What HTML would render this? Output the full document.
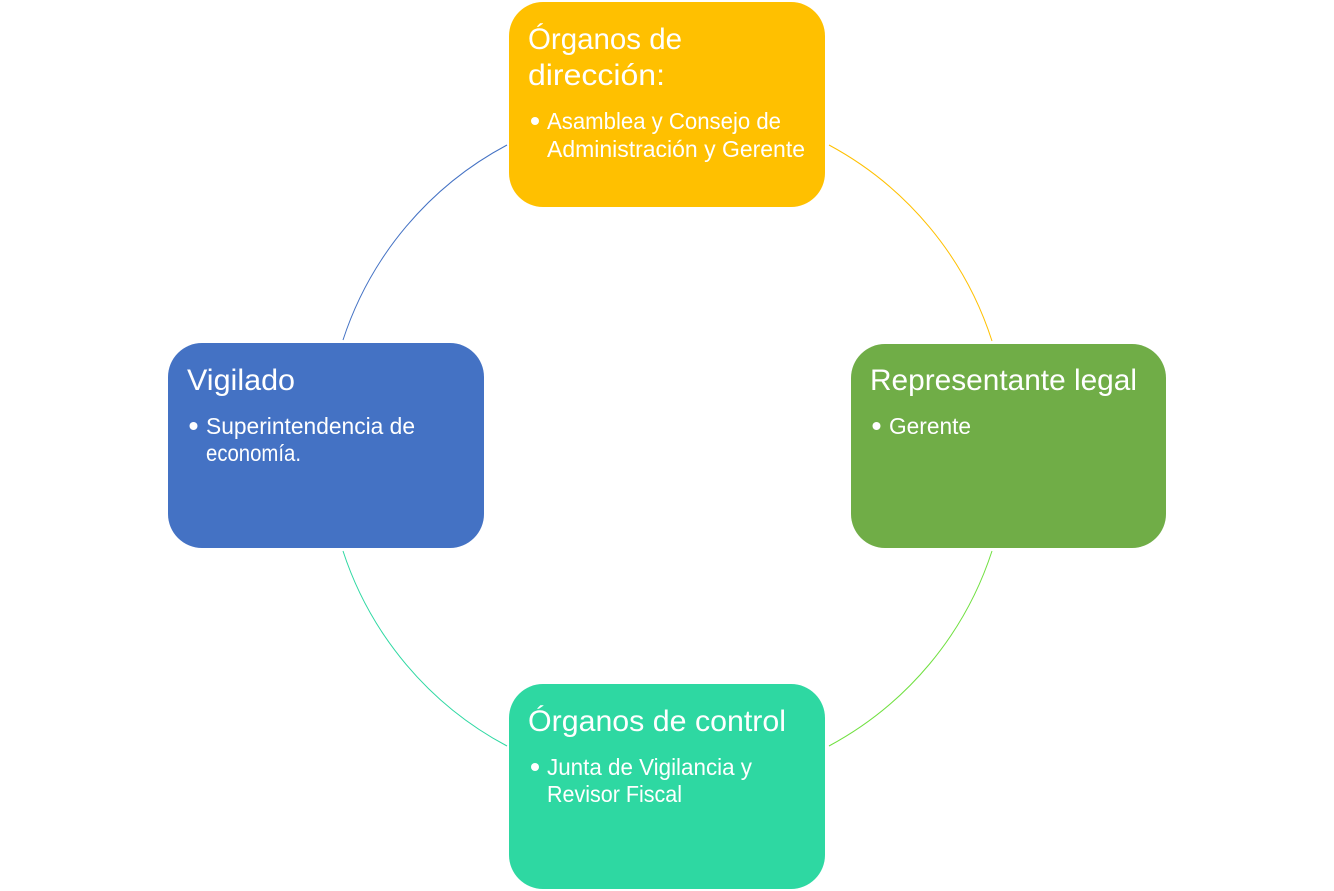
<!DOCTYPE html>
<html lang="es">
<head>
<meta charset="utf-8">
<title>Diagrama de órganos</title>
<style>
html,body{margin:0;padding:0;background:#fff}
svg{display:block}
text{font-family:"Liberation Sans","DejaVu Sans",sans-serif;fill:#fff}
.t{font-size:30px}
.b{font-size:23.5px}
</style>
</head>
<body>
<svg width="1334" height="891" viewBox="0 0 1334 891" xmlns="http://www.w3.org/2000/svg">
  <rect width="1334" height="891" fill="#fff"/>
  <g fill="none" stroke-width="1">
    <path d="M829 145A341 341 0 0 1 992 341" stroke="#FFC000"/>
    <path d="M992 551A341 341 0 0 1 829 746" stroke="#70E040"/>
    <path d="M507 746A341 341 0 0 1 343 551" stroke="#2ED8A2"/>
    <path d="M343 340A341 341 0 0 1 507 145" stroke="#4472C4"/>
  </g>

  <rect x="509" y="2" width="316" height="205" rx="34" fill="#FFC000"/>
  <rect x="851" y="344" width="315" height="204" rx="34" fill="#70AD47"/>
  <rect x="509" y="684" width="316" height="205" rx="34" fill="#2ED8A2"/>
  <rect x="168" y="343" width="316" height="205" rx="34" fill="#4472C4"/>

  <text class="t" x="528" y="49" textLength="154" lengthAdjust="spacingAndGlyphs">Órganos de</text>
  <text class="t" x="528" y="85" textLength="137" lengthAdjust="spacingAndGlyphs">dirección:</text>
  <circle cx="535" cy="121" r="4" fill="#fff"/>
  <text class="b" x="547" y="129" textLength="234" lengthAdjust="spacingAndGlyphs">Asamblea y Consejo de</text>
  <text class="b" x="547" y="157" textLength="258" lengthAdjust="spacingAndGlyphs">Administración y Gerente</text>

  <text class="t" x="870" y="390" textLength="267" lengthAdjust="spacingAndGlyphs">Representante legal</text>
  <circle cx="876.5" cy="426" r="4" fill="#fff"/>
  <text class="b" x="889" y="434" textLength="82" lengthAdjust="spacingAndGlyphs">Gerente</text>

  <text class="t" x="528" y="731" textLength="258" lengthAdjust="spacingAndGlyphs">Órganos de control</text>
  <circle cx="535" cy="767" r="4" fill="#fff"/>
  <text class="b" x="547" y="775" textLength="205" lengthAdjust="spacingAndGlyphs">Junta de Vigilancia y</text>
  <text class="b" x="547" y="802" textLength="135" lengthAdjust="spacingAndGlyphs">Revisor Fiscal</text>

  <text class="t" x="187" y="390" textLength="108" lengthAdjust="spacingAndGlyphs">Vigilado</text>
  <circle cx="193.5" cy="426" r="4" fill="#fff"/>
  <text class="b" x="206" y="434" textLength="209" lengthAdjust="spacingAndGlyphs">Superintendencia de</text>
  <text class="b" x="206" y="461" textLength="95" lengthAdjust="spacingAndGlyphs">economía.</text>
</svg>
</body>
</html>
